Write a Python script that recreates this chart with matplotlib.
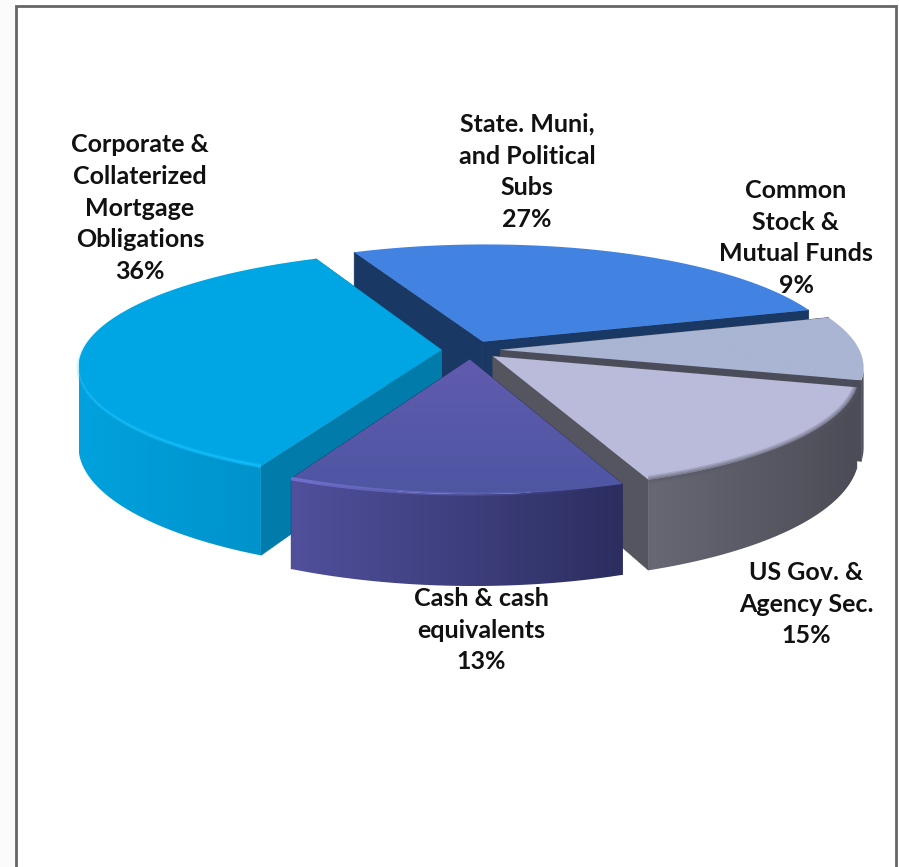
import matplotlib
matplotlib.use('agg')
import matplotlib.pyplot as plt
from matplotlib.collections import LineCollection
from matplotlib.colors import LinearSegmentedColormap, to_rgb
from matplotlib.patches import Polygon, Rectangle
import numpy as np

names = ['State. Muni,\nand Political\nSubs', 'Common\nStock &\nMutual Funds', 'US Gov. &\nAgency Sec.',
         'Cash & cash\nequivalents', 'Corporate &\nCollaterized\nMortgage\nObligations']
shares = [27, 9, 15, 13, 36]

top_left = ['#4283E2', '#A9B5D3', '#BABBDB', '#605BAE', '#00A6E3']
top_right = ['#4283E2', '#A9B5D3', '#BABBDB', '#4E56A2', '#00A6E3']
wall_left = ['#1B3A68', '#55565F', '#676873', '#50509C', '#00A2DE']
wall_right = ['#1B3A68', '#4C4D58', '#4C4C57', '#2C2E60', '#0092CB']
cut_color = ['#1A3864', '#4B4C5A', '#55555F', '#2C2E60', '#007BAA']

# pie geometry, in pixels
cx, cy = 471, 350
rx, ry = 359, 113
depth = 78
persp = 0.14
bow = 3.6
explode = 0.082
start = -24.5

fig = plt.figure(figsize=(8.99, 8.67), dpi=100)
ax = fig.add_axes([0, 0, 1, 1])
zorder = [2]


def project(x, y):
    s = 1.0 / (1.0 - persp * y)
    return cx + rx * x * s + bow * y * y, cy + ry * y * s, depth * s


def ring(t, ox, oy):
    px, py, h = project(ox + np.sin(t), oy - np.cos(t))
    return np.column_stack([px, py]), np.column_stack([px, py + h])


def grad_fill(pts, c1, c2, vertical=False):
    zorder[0] += 1
    cmap = LinearSegmentedColormap.from_list('g', [c1, c2])
    ramp = np.linspace(0, 1, 256)
    ramp = ramp[:, None] if vertical else ramp[None, :]
    x0, x1, y0, y1 = pts[:, 0].min(), pts[:, 0].max(), pts[:, 1].min(), pts[:, 1].max()
    im = ax.imshow(ramp, cmap=cmap, extent=[x0, x1, y1, y0], aspect='auto', zorder=zorder[0],
                   interpolation='bilinear')
    im.set_clip_path(Polygon(pts, closed=True, transform=ax.transData))


def flat_fill(pts, color):
    zorder[0] += 1
    ax.add_patch(Polygon(pts, closed=True, fc=color, ec=color, lw=0.5, zorder=zorder[0]))


def soft_rim(arc, color, widths, alpha):
    # alpha may be one number or one value per arc segment
    alphas = np.broadcast_to(alpha, len(arc) - 1)
    rgba = np.column_stack([np.tile(to_rgb(color), (len(arc) - 1, 1)), alphas])
    segs = np.stack([arc[:-1], arc[1:]], axis=1)
    for w in widths:
        zorder[0] += 1
        ax.add_collection(LineCollection(segs, colors=rgba, linewidths=w, capstyle='butt',
                                         zorder=zorder[0]))


edges = start + 3.6 * np.concatenate([[0], np.cumsum(shares)])

slices = {}
for i in range(len(shares)):
    a0, a1 = np.radians(edges[i]), np.radians(edges[i + 1])
    mid = 0.5 * (a0 + a1)
    ox, oy = explode * np.sin(mid), -explode * np.cos(mid)
    slices[i] = (a0, a1, ox, oy)


def draw_slice(i):
    a0, a1, ox, oy = slices[i]
    t = np.linspace(a0, a1, 200)
    upper, lower = ring(t, ox, oy)
    ax_, ay_, ah = project(ox, oy)
    apex_up = np.array([ax_, ay_])
    apex_low = np.array([ax_, ay_ + ah])

    # the two cut faces, then the outer wall, then the top
    flat_fill(np.array([apex_up, upper[0], lower[0], apex_low]), cut_color[i])
    flat_fill(np.array([apex_up, upper[-1], lower[-1], apex_low]), cut_color[i])
    # only the part of the wall turned towards the viewer
    front = np.gradient(upper[:, 0]) < 0
    if front.sum() > 2:
        grad_fill(np.vstack([upper[front], lower[front][::-1]]), wall_left[i], wall_right[i])
    top = np.vstack([apex_up, upper])
    grad_fill(top, top_left[i], top_right[i], vertical=True)
    return upper


# back to front
for i in [0, 1]:
    draw_slice(i)
upper = draw_slice(4)
soft_rim(upper[:110], '#12BDFB', [3.0, 1.5], np.linspace(0.6, 0.0, 109))
upper = draw_slice(2)
soft_rim(upper, '#5A5B68', [6, 4, 2.5, 1.2], 0.22)
upper = draw_slice(3)
soft_rim(upper, '#7B79DC', [2.5], np.linspace(0.0, 0.9, 199) ** 1.5)

# page frame and the faint strip outside it
ax.add_patch(Rectangle((0, 0), 15, 867, fc='#FBFBFB', ec='none', zorder=1))
ax.plot([16, 16, 896, 896], [867, 6, 6, 867], color='#666666', lw=2.0, zorder=30,
        solid_joinstyle='miter')

label_x = [527, 796, 806, 481, 140]
label_y = [172, 238, 604, 630, 208]
for i in range(len(shares)):
    ax.text(label_x[i], label_y[i], '%s\n%d%%' % (names[i], shares[i]), ha='center', va='center',
            family='Lato', fontweight='bold', fontsize=18, linespacing=1.46, color='#111111', zorder=40)

ax.set_xlim(0, 899)
ax.set_ylim(867, 0)
ax.axis('off')

fig.savefig('out.png', dpi=100, facecolor='white')
